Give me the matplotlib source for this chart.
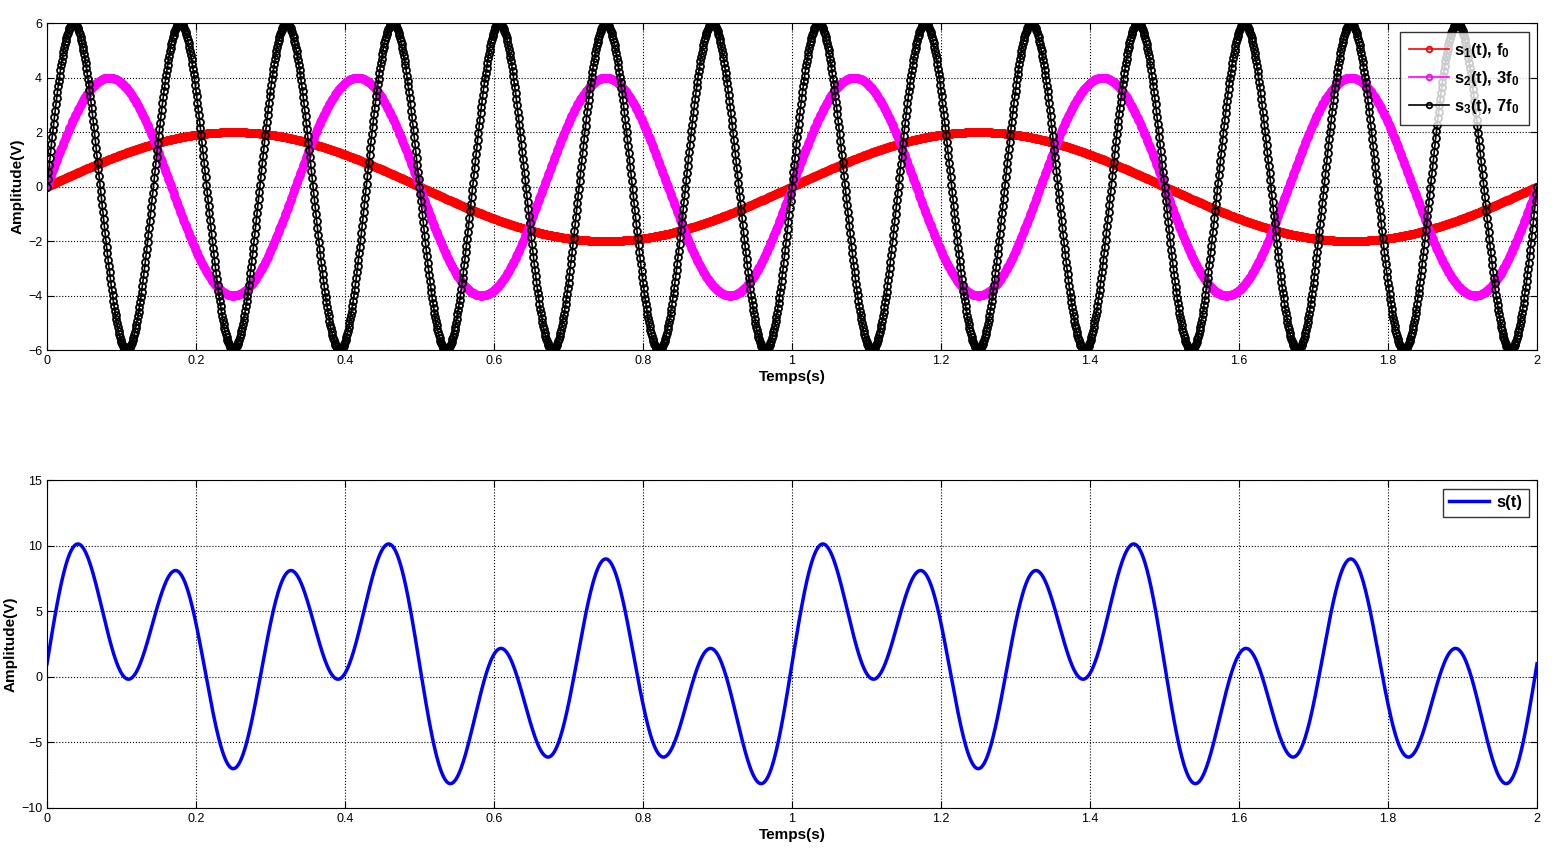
import numpy as np
import matplotlib
matplotlib.use('Agg')
import matplotlib.pyplot as plt

# parametres
f0 = 1.0                      # Hz
amplitudes = [2, 4, 6]        # V
harmoniques = [1, 3, 7]       # multiples de f0
couleurs = ['red', 'magenta', 'black']
noms = ['s$_1$(t), f$_0$', 's$_2$(t), 3f$_0$', 's$_3$(t), 7f$_0$']
offset_dc = 1.0               # composante continue de s(t)
dt = 0.001
t_fin = 2.0

plt.rcParams['font.family'] = ['Liberation Sans', 'DejaVu Sans']
plt.rcParams['mathtext.fontset'] = 'custom'
plt.rcParams['mathtext.rm'] = 'Liberation Sans:bold'
plt.rcParams['mathtext.it'] = 'Liberation Sans:bold'
plt.rcParams['mathtext.default'] = 'rm'

t = np.arange(0, t_fin + dt / 2, dt)
signaux = [A * np.sin(2 * np.pi * k * f0 * t) for A, k in zip(amplitudes, harmoniques)]
s = offset_dc + np.sum(signaux, axis=0)

fig = plt.figure(figsize=(15.56, 8.6), dpi=100)
ax1 = fig.add_axes([0.0302, 0.593, 0.9576, 0.380])
ax2 = fig.add_axes([0.0302, 0.0605, 0.9576, 0.381])

for sig, c, nom in zip(signaux, couleurs, noms):
    ax1.plot(t, sig, 'o-', color=c, markersize=5, markerfacecolor='none',
             markeredgewidth=1.3, linewidth=1.2, label=nom)
ax1.set_ylim(-6, 6)
ax1.set_yticks(np.arange(-6, 7, 2))
leg1 = ax1.legend(loc='upper right', frameon=True, fancybox=False,
                  handlelength=2.4, borderaxespad=0.5, markerscale=0.8,
                  labelspacing=0.55, handletextpad=0.3, borderpad=0.55,
                  prop={'weight': 'bold', 'size': 12})

ax2.plot(t, s, '-', color='blue', linewidth=2.5, label='s(t)')
ax2.set_ylim(-10, 15)
ax2.set_yticks(np.arange(-10, 16, 5))
leg2 = ax2.legend(loc='upper right', frameon=True, fancybox=False,
                  handlelength=2.4, borderaxespad=0.5, handletextpad=0.4,
                  prop={'weight': 'bold', 'size': 12})

for ax, leg in ((ax1, leg1), (ax2, leg2)):
    ax.set_xlim(0, 2)
    ax.set_xticks(np.arange(0, 2.01, 0.2))
    ax.set_xticklabels(['0', '0.2', '0.4', '0.6', '0.8', '1', '1.2', '1.4', '1.6', '1.8', '2'])
    ax.grid(True, linestyle=':', color='black', linewidth=0.8)
    ax.tick_params(direction='in', top=True, right=True, labelsize=9, length=5)
    ax.set_xlabel('Temps(s)', fontsize=11, fontweight='bold', labelpad=2)
    ax.set_ylabel('Amplitude(V)', fontsize=11, fontweight='bold', labelpad=2)
    leg.get_frame().set_edgecolor('black')
    leg.get_frame().set_linewidth(1.0)
    for sp in ax.spines.values():
        sp.set_linewidth(0.8)

fig.savefig('out.png', dpi=100)
